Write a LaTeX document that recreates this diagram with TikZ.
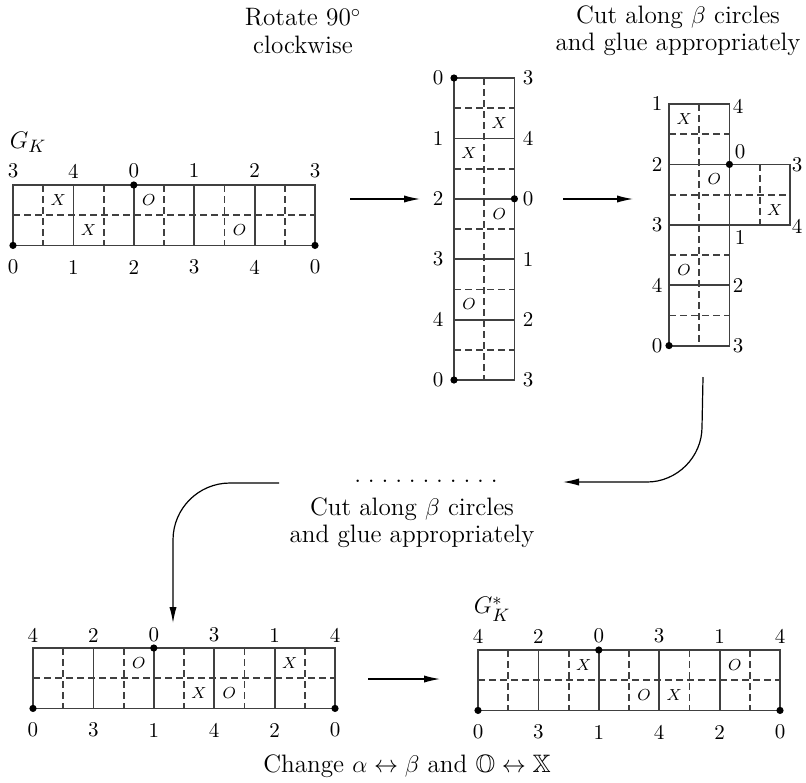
\documentclass[tikz,border=0pt]{standalone}
\usepackage{amssymb}
\usetikzlibrary{arrows.meta}
\begin{document}
\begin{tikzpicture}[x=0.5pt,y=-0.5pt,
  gl/.style={line width=0.9pt,draw=black!75},
  dl/.style={line width=0.9pt,draw=black!75,dash pattern=on 3.5pt off 2pt},
  num/.style={font=\fontsize{10.5}{12}\selectfont,inner sep=0pt},
  mk/.style={font=\fontsize{8.4}{10}\selectfont,inner sep=0pt},
  capt/.style={font=\fontsize{12.6}{13.6}\selectfont,align=center,inner sep=0pt},
  pt/.style={circle,fill=black,inner sep=0pt,minimum size=3.6pt},
  arr/.style={line width=0.6pt,-{Latex[length=8pt,width=3.6pt]}}]
\useasboundingbox (0,0) rectangle (806,782);
\def\gu{30.2}
% ---------------- Grid 1 (G_K)
\foreach \i in {1,3,5,7,9} \draw[dl] ({13+\i*\gu},185) -- ({13+\i*\gu},{185+2*\gu});
\draw[dl] (13,{185+\gu}) -- ({13+10*\gu},{185+\gu});
\foreach \i in {2,4,6,8} \draw[gl] ({13+\i*\gu},185) -- ({13+\i*\gu},{185+2*\gu});
\draw[gl] (13,185) rectangle ({13+10*\gu},{185+2*\gu});
\foreach \l [count=\k from 0] in {3,4,0,1,2,3} \node[num] (g1t\k) at ({13+2*\k*\gu},171) {\l};
\foreach \l [count=\k from 0] in {0,1,2,3,4,0} \node[num] (g1b\k) at ({13+2*\k*\gu},267) {\l};
\node[mk] (g1m1) at ({13+1.5*\gu},{185+0.5*\gu}) {$X$};
\node[mk] (g1m2) at ({13+2.5*\gu},{185+1.5*\gu}) {$X$};
\node[mk] (g1m3) at ({13+4.5*\gu},{185+0.5*\gu}) {$O$};
\node[mk] (g1m4) at ({13+7.5*\gu},{185+1.5*\gu}) {$O$};
\node[pt] (g1p1) at ({13+4*\gu},185) {};
\node[pt] (g1p2) at (13,{185+2*\gu}) {};
\node[pt] (g1p3) at ({13+10*\gu},{185+2*\gu}) {};
\node[capt] (gk) at (28,142) {$G_K$};
% ---------------- Grid 2 (vertical)
\foreach \i in {1,3,5,7,9} \draw[dl] (454,{78+\i*\gu}) -- ({454+2*\gu},{78+\i*\gu});
\draw[dl] ({454+\gu},78) -- ({454+\gu},{78+10*\gu});
\foreach \i in {2,4,6,8} \draw[gl] (454,{78+\i*\gu}) -- ({454+2*\gu},{78+\i*\gu});
\draw[gl] (454,78) rectangle ({454+2*\gu},{78+10*\gu});
\foreach \l [count=\k from 0] in {0,1,2,3,4,0} \node[num] (g2l\k) at (438,{78+2*\k*\gu}) {\l};
\foreach \l [count=\k from 0] in {3,4,0,1,2,3} \node[num] (g2r\k) at (528,{78+2*\k*\gu}) {\l};
\node[mk] (g2m1) at ({454+1.5*\gu},{78+1.5*\gu}) {$X$};
\node[mk] (g2m2) at ({454+0.5*\gu},{78+2.5*\gu}) {$X$};
\node[mk] (g2m3) at ({454+1.5*\gu},{78+4.5*\gu}) {$O$};
\node[mk] (g2m4) at ({454+0.5*\gu},{78+7.5*\gu}) {$O$};
\node[pt] (g2p1) at (454,78) {};
\node[pt] (g2p2) at ({454+2*\gu},{78+4*\gu}) {};
\node[pt] (g2p3) at (454,{78+10*\gu}) {};
% ---------------- Grid 3 (with flap)
\foreach \i in {1,5,7} \draw[dl] (669,{104+\i*\gu}) -- ({669+2*\gu},{104+\i*\gu});
\draw[dl] (669,{104+3*\gu}) -- ({669+4*\gu},{104+3*\gu});
\draw[dl] ({669+\gu},104) -- ({669+\gu},{104+8*\gu});
\draw[dl] ({669+3*\gu},{104+2*\gu}) -- ({669+3*\gu},{104+4*\gu});
\foreach \i in {2,4,6} \draw[gl] (669,{104+\i*\gu}) -- ({669+2*\gu},{104+\i*\gu});
\draw[gl] (669,104) rectangle ({669+2*\gu},{104+8*\gu});
\draw[gl] ({669+2*\gu},{104+2*\gu}) rectangle ({669+4*\gu},{104+4*\gu});
\foreach \l [count=\k from 0] in {1,2,3,4,0} \node[num] (g3l\k) at (657,{104+2*\k*\gu}) {\l};
\node[num] (g3r1) at (738,106) {4};
\node[num] (g3r2) at (740,152) {0};
\node[num] (g3r3) at (797,165) {3};
\node[num] (g3r4) at (797,226) {4};
\node[num] (g3r5) at (740,237) {1};
\node[num] (g3r6) at (738,{104+6*\gu}) {2};
\node[num] (g3r7) at (738,{104+8*\gu}) {3};
\node[mk] (g3m1) at ({669+0.5*\gu},{104+0.5*\gu}) {$X$};
\node[mk] (g3m2) at ({669+1.5*\gu},{104+2.5*\gu}) {$O$};
\node[mk] (g3m3) at ({669+3.5*\gu},{104+3.5*\gu}) {$X$};
\node[mk] (g3m4) at ({669+0.5*\gu},{104+5.5*\gu}) {$O$};
\node[pt] (g3p1) at ({669+2*\gu},{104+2*\gu}) {};
\node[pt] (g3p2) at (669,{104+8*\gu}) {};
% ---------------- Grid 4
\foreach \i in {1,3,5,7,9} \draw[dl] ({33+\i*\gu},648) -- ({33+\i*\gu},{648+2*\gu});
\draw[dl] (33,{648+\gu}) -- ({33+10*\gu},{648+\gu});
\foreach \i in {2,4,6,8} \draw[gl] ({33+\i*\gu},648) -- ({33+\i*\gu},{648+2*\gu});
\draw[gl] (33,648) rectangle ({33+10*\gu},{648+2*\gu});
\foreach \l [count=\k from 0] in {4,2,0,3,1,4} \node[num] (g4t\k) at ({33+2*\k*\gu},635) {\l};
\foreach \l [count=\k from 0] in {0,3,1,4,2,0} \node[num] (g4b\k) at ({33+2*\k*\gu},730) {\l};
\node[mk] (g4m1) at ({33+3.5*\gu},{648+0.5*\gu}) {$O$};
\node[mk] (g4m2) at ({33+5.5*\gu},{648+1.5*\gu}) {$X$};
\node[mk] (g4m3) at ({33+6.5*\gu},{648+1.5*\gu}) {$O$};
\node[mk] (g4m4) at ({33+8.5*\gu},{648+0.5*\gu}) {$X$};
\node[pt] (g4p1) at ({33+4*\gu},648) {};
\node[pt] (g4p2) at (33,{648+2*\gu}) {};
\node[pt] (g4p3) at ({33+10*\gu},{648+2*\gu}) {};
% ---------------- Grid 5 (G_K^*)
\foreach \i in {1,3,5,7,9} \draw[dl] ({478+\i*\gu},650) -- ({478+\i*\gu},{650+2*\gu});
\draw[dl] (478,{650+\gu}) -- ({478+10*\gu},{650+\gu});
\foreach \i in {2,4,6,8} \draw[gl] ({478+\i*\gu},650) -- ({478+\i*\gu},{650+2*\gu});
\draw[gl] (478,650) rectangle ({478+10*\gu},{650+2*\gu});
\foreach \l [count=\k from 0] in {4,2,0,3,1,4} \node[num] (g5t\k) at ({478+2*\k*\gu},636) {\l};
\foreach \l [count=\k from 0] in {0,3,1,4,2,0} \node[num] (g5b\k) at ({478+2*\k*\gu},732) {\l};
\node[mk] (g5m1) at ({478+3.5*\gu},{650+0.5*\gu}) {$X$};
\node[mk] (g5m2) at ({478+5.5*\gu},{650+1.5*\gu}) {$O$};
\node[mk] (g5m3) at ({478+6.5*\gu},{650+1.5*\gu}) {$X$};
\node[mk] (g5m4) at ({478+8.5*\gu},{650+0.5*\gu}) {$O$};
\node[pt] (g5p1) at ({478+4*\gu},650) {};
\node[pt] (g5p2) at (478,{650+2*\gu}) {};
\node[pt] (g5p3) at ({478+10*\gu},{650+2*\gu}) {};
\node[capt] (gks) at (492,609) {$G_K^*$};
% ---------------- Captions
\node[capt] (c1) at (303,31) {Rotate 90$^\circ$\\clockwise};
\node[capt] (c2) at (678,31) {Cut along $\beta$ circles\\and glue appropriately};
\node[capt] (c3) at (412,523) {Cut along $\beta$ circles\\and glue appropriately};
\node[capt] (c4) at (407,766) {Change $\alpha\leftrightarrow\beta$ and $\mathbb{O}\leftrightarrow\mathbb{X}$};
\node[capt] (dots) at (426,481) {.\hspace{3.4pt}.\hspace{3.4pt}.\hspace{3.4pt}.\hspace{3.4pt}.\hspace{3.4pt}.\hspace{3.4pt}.\hspace{3.4pt}.\hspace{3.4pt}.\hspace{3.4pt}.\hspace{3.4pt}.};
% ---------------- Arrows
\coordinate (a1s) at (350,199); \coordinate (a1e) at (420,199);
\coordinate (a2s) at (563,199); \coordinate (a2e) at (633,199);
\coordinate (a3s) at (368,679); \coordinate (a3e) at (440,679);
\coordinate (c1s) at (703,377); \coordinate (c1e) at (563,482);
\coordinate (c2s) at (279,483); \coordinate (c2e) at (173,623);
\draw[arr] (a1s) -- (a1e);
\draw[arr] (a2s) -- (a2e);
\draw[arr] (a3s) -- (a3e);
\draw[arr] (c1s) -- (702,427) .. controls (702,457) and (677,482) .. (647,482) -- (c1e);
\draw[arr] (c2s) -- (230,483) .. controls (198.5,483) and (173,508.5) .. (173,540) -- (c2e);
\end{tikzpicture}
\end{document}
